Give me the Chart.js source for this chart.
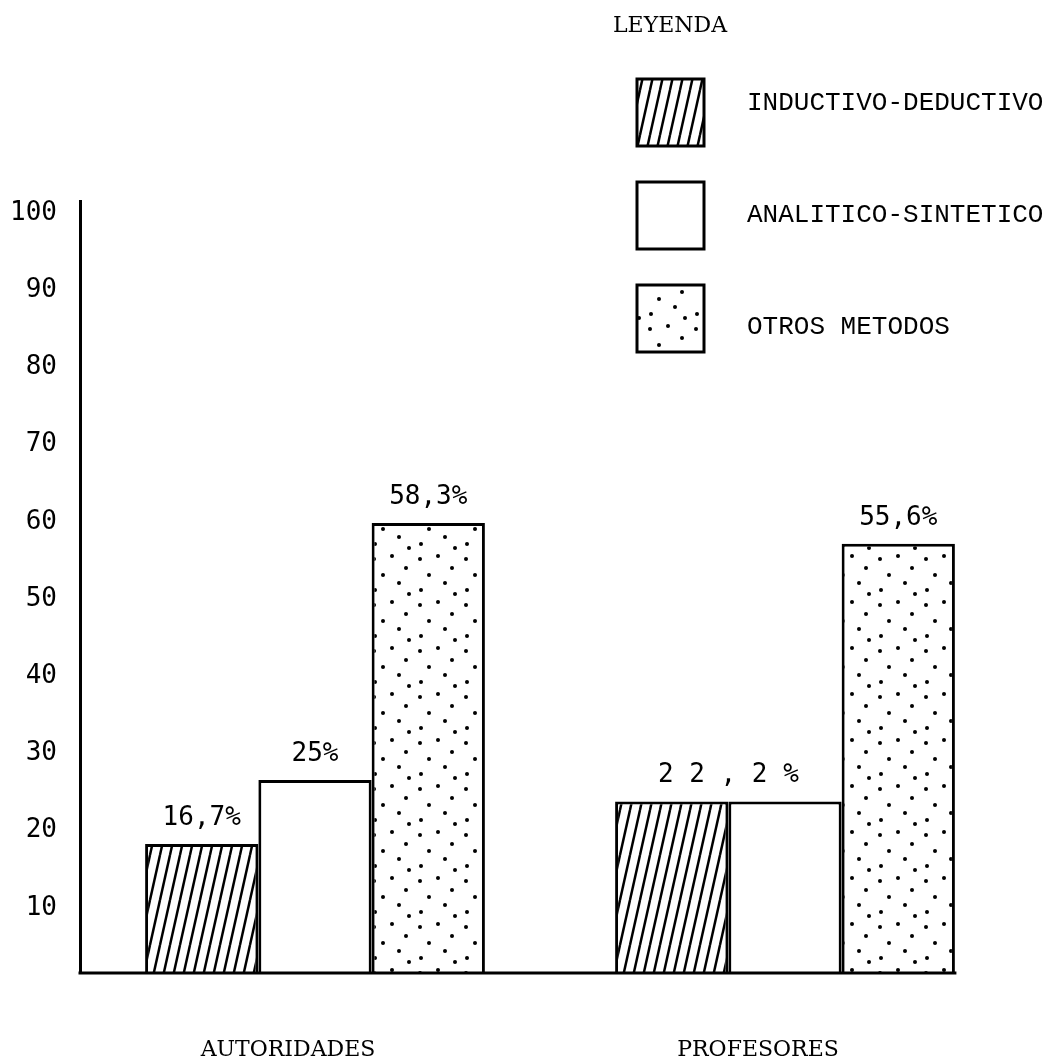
<!DOCTYPE html>
<html>
<head>
<meta charset="utf-8">
<script src="https://cdn.jsdelivr.net/npm/chart.js@4.4.0/dist/chart.umd.min.js"></script>
<style>
    body { margin: 0; background: #fff; }
    #wrap { width: 1055px; height: 1063px; position: relative; }
</style>
</head>
<body>
<div id="wrap"><canvas id="chart"></canvas></div>
<script>
const categories = ["AUTORIDADES", "PROFESORES"];
const seriesNames = ["INDUCTIVO-DEDUCTIVO", "ANALITICO-SINTETICO", "OTROS METODOS"];
const inductivo = [16.7, 22.2];
const analitico = [25, 22.2];
const otros = [58.3, 55.6];
// texts printed above the bars ("" = shared with the bar on its left)
const inductivoLabels = ["16,7%", "2 2 , 2 %"];
const analiticoLabels = ["25%", ""];
const otrosLabels = ["58,3%", "55,6%"];
const yTicks = [10, 20, 30, 40, 50, 60, 70, 80, 90, 100];

const monoFont = "'DejaVu Sans Mono', monospace";
const typewriterFont = "'Liberation Mono', monospace";
const serifFont = "'DejaVu Serif', serif";

const makeHatch = () => {
    const c = document.createElement("canvas");
    c.width = 10;
    c.height = 45;
    const g = c.getContext("2d");
    g.fillStyle = "#fff";
    g.fillRect(0, 0, 10, 45);
    g.strokeStyle = "#000";
    g.lineWidth = 2.5;
    [-10, 0, 10].forEach((dx) => {
        g.beginPath();
        g.moveTo(dx, 45);
        g.lineTo(dx + 10, 0);
        g.stroke();
    });
    return g.createPattern(c, "repeat");
};

const makeDots = () => {
    const c = document.createElement("canvas");
    c.width = 46;
    c.height = 46;
    const g = c.getContext("2d");
    g.fillStyle = "#fff";
    g.fillRect(0, 0, 46, 46);
    g.fillStyle = "#000";
    [[6, 7], [24, 4], [38, 16], [15, 23], [31, 31], [7, 38], [41, 42]].forEach(([x, y]) => {
        g.beginPath();
        g.arc(x, y, 2, 0, Math.PI * 2);
        g.fill();
    });
    return g.createPattern(c, "repeat");
};

const fills = [makeHatch(), "#fff", makeDots()];
const barLabels = [inductivoLabels, analiticoLabels, otrosLabels];

const valueLabelPlugin = {
    id: "valueLabels",
    afterDatasetsDraw(chart) {
        const ctx = chart.ctx;
        ctx.save();
        ctx.font = "26px " + monoFont;
        ctx.fillStyle = "#000";
        ctx.textAlign = "center";
        ctx.textBaseline = "bottom";
        barLabels.forEach((texts, di) => {
            const meta = chart.getDatasetMeta(di);
            texts.forEach((txt, i) => {
                if (!txt) return;
                const bar = meta.data[i];
                let x = bar.x;
                let y = bar.y;
                const next = barLabels[di + 1];
                if (next && next[i] === "") {
                    const nb = chart.getDatasetMeta(di + 1).data[i];
                    x = (bar.x + nb.x) / 2;
                    y = Math.min(bar.y, nb.y);
                }
                ctx.fillText(txt, x, y - 13);
            });
        });
        ctx.restore();
    },
};

// x axis line runs from the y axis to the right edge of the last bar
const baseLinePlugin = {
    id: "baseLine",
    afterDatasetsDraw(chart) {
        const ctx = chart.ctx;
        const area = chart.chartArea;
        const last = chart.getDatasetMeta(chart.data.datasets.length - 1).data;
        const lastBar = last[last.length - 1];
        ctx.save();
        ctx.strokeStyle = "#000";
        ctx.lineWidth = 3;
        ctx.beginPath();
        ctx.moveTo(area.left - 1.5, area.bottom);
        ctx.lineTo(lastBar.x + lastBar.width / 2 + 1.5, area.bottom);
        ctx.stroke();
        ctx.restore();
    },
};

const legendPlugin = {
    id: "customLegend",
    afterDraw(chart) {
        const ctx = chart.ctx;
        ctx.save();
        ctx.fillStyle = "#000";
        ctx.textBaseline = "middle";
        ctx.textAlign = "left";
        ctx.font = "22px " + serifFont;
        ctx.fillText("LEYENDA", 613, 26);
        ctx.font = "26px " + typewriterFont;
        chart.data.datasets.forEach((ds, i) => {
            const top = 79 + i * 103;
            ctx.fillStyle = ds.backgroundColor;
            ctx.fillRect(637, top, 67, 67);
            ctx.strokeStyle = "#000";
            ctx.lineWidth = 3;
            ctx.strokeRect(637, top, 67, 67);
            ctx.fillStyle = "#000";
            ctx.fillText(ds.label, 747, top + 24 + i * 9);
        });
        ctx.restore();
    },
};

const datasets = [inductivo, analitico, otros].map((values, i) => ({
    label: seriesNames[i],
    data: values,
    backgroundColor: fills[i],
    borderColor: "#000",
    borderWidth: 3,
    borderSkipped: "bottom",
    barPercentage: 1,
    categoryPercentage: 0.723,
}));

const drawChart = () => {
    new Chart(document.getElementById("chart").getContext("2d"), {
        type: "bar",
        data: { labels: categories, datasets: datasets },
        options: {
            responsive: true,
            maintainAspectRatio: false,
            animation: false,
            layout: { padding: { top: 201, right: 35, left: 0, bottom: 0 } },
            plugins: {
                legend: { display: false },
                tooltip: { enabled: false },
            },
            scales: {
                x: {
                    grid: { display: false, drawTicks: false },
                    border: { display: false },
                    ticks: {
                        color: "#000",
                        font: { family: serifFont, size: 22 },
                        padding: 64,
                        labelOffset: -27,
                    },
                    afterFit: (scale) => { scale.height = 90; },
                },
                y: {
                    min: 0,
                    max: 100,
                    afterBuildTicks: (scale) => {
                        scale.ticks = yTicks.map((v) => ({ value: v }));
                    },
                    grid: { display: false, drawTicks: false },
                    border: { color: "#000", width: 3 },
                    ticks: {
                        color: "#000",
                        font: { family: monoFont, size: 26 },
                        padding: 23,
                        labelOffset: 12,
                    },
                    afterFit: (scale) => { scale.width = 80; },
                },
            },
        },
        plugins: [valueLabelPlugin, baseLinePlugin, legendPlugin],
    });
};

Promise.all([
    document.fonts.load("26px 'DejaVu Sans Mono'"),
    document.fonts.load("26px 'Liberation Mono'"),
    document.fonts.load("22px 'DejaVu Serif'"),
]).then(drawChart, drawChart);
</script>
</body>
</html>
